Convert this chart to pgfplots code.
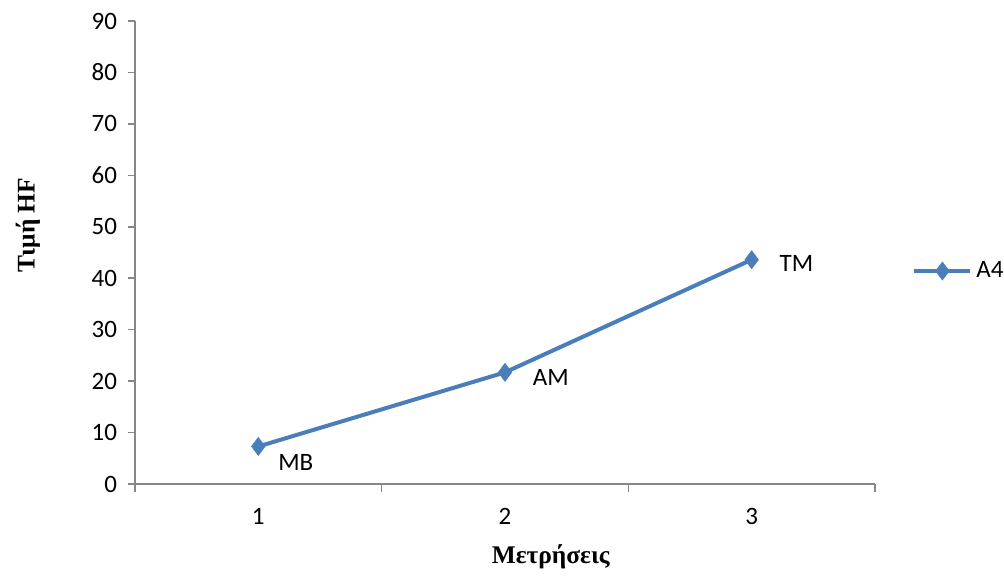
\documentclass[border=0pt]{standalone}
\usepackage{pgfplots}
\pgfplotsset{compat=1.18}
\usepackage{fontspec}
\setmainfont{Liberation Serif}
\newfontfamily\tickfont{Carlito}
\definecolor{lineblue}{HTML}{4A7EBB}
\definecolor{axisgray}{HTML}{868686}
\begin{document}
\begin{tikzpicture}
\path[use as bounding box] (-67.5bp,-47.5bp) rectangle (434.5bp,242bp);
\begin{axis}[
  at={(0,0)}, anchor=south west,
  scale only axis,
  width=370bp, height=231.5bp,
  xmin=0.5, xmax=3.5, ymin=0, ymax=90,
  axis lines*=left,
  axis line style={draw=axisgray, line width=0.8bp},
  xtick={1,2,3},
  minor xtick={0.5,1.5,2.5,3.5},
  major x tick style={draw=none},
  minor x tick style={draw=axisgray, line width=0.8bp},
  minor tick length=4bp,
  ytick={0,10,...,90},
  y tick style={draw=axisgray, line width=0.8bp},
  major tick length=3.5bp,
  tick align=outside,
  /pgf/number format/assume math mode=true,
  ticklabel style={font=\tickfont\fontsize{12.5bp}{14bp}\selectfont, text=black},
  yticklabel style={xshift=-2bp},
  xticklabel style={yshift=-5bp},
  xlabel={\textbf{Μετρήσεις}},
  ylabel={\textbf{Τιμή HF}},
  label style={font=\fontsize{12.7bp}{14bp}\selectfont},
  xlabel style={at={(axis description cs:0.562,-0.158)}, anchor=center},
  ylabel style={at={(axis description cs:-0.1446,0.559)}, anchor=center, rotate=0},
  legend style={at={(axis description cs:1.05,0.46)}, anchor=west, draw=none, fill=none,
    font=\tickfont\fontsize{12.5bp}{14bp}\selectfont, inner sep=0pt,
    /tikz/every even column/.append style={column sep=0pt}},
  legend cell align=left,
  legend image code/.code={\draw[mark repeat=2,mark phase=2,#1] plot coordinates {(0bp,0bp)(14bp,0bp)(28bp,0bp)};},
  clip=false,
]
\addplot[color=lineblue, line width=2bp, mark=diamond*, mark size=4.5bp,
  mark options={fill=lineblue, draw=lineblue, line width=0.3bp},
  nodes near coords, point meta=explicit symbolic,
  every node near coord/.append style={font=\tickfont\fontsize{12.5bp}{14bp}\selectfont, text=black, anchor=west},
  visualization depends on={\thisrow{dx} \as \dx},
  visualization depends on={\thisrow{dy} \as \dy},
  every node near coord/.append style={xshift=\dx bp, yshift=\dy bp},
] table[meta=lbl] {
x y lbl dx dy
1 7.3 MB 6.5 -8
2 21.7 AM 10.5 -2.5
3 43.6 TM 10.5 -2
};
\addlegendentry{A4}
\end{axis}
\end{tikzpicture}
\end{document}
